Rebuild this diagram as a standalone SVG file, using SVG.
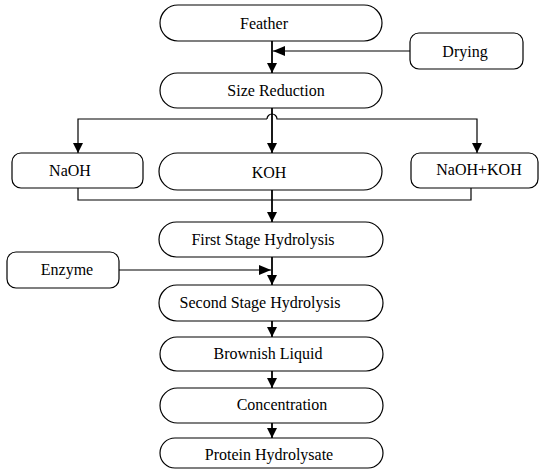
<svg xmlns="http://www.w3.org/2000/svg" width="539" height="472" viewBox="0 0 539 472">
<style>
.n{fill:#fff;stroke:#000;stroke-width:1.2}
.t{font-family:"Liberation Serif","Times New Roman",Times,"DejaVu Serif",serif;font-size:16px;fill:#000;text-anchor:middle}
.c{fill:none;stroke:#000;stroke-width:1.2}
.m{fill:none;stroke:#000;stroke-width:1.8}
</style>
<defs>
<marker id="ah" viewBox="0 0 10 10" refX="10" refY="5" markerWidth="10" markerHeight="10" markerUnits="userSpaceOnUse" orient="auto">
<path d="M0,0 L10,5 L0,10 Z" fill="#000"/>
</marker>
<marker id="ahw" viewBox="0 0 12 10" refX="12" refY="5" markerWidth="14" markerHeight="10" markerUnits="userSpaceOnUse" orient="auto">
<path d="M0,0 L12,5 L0,10 Z" fill="#000"/>
</marker>
</defs>
<rect width="539" height="472" fill="#fff"/>
<g id="connectors">
<path class="m" d="M272,41 V73" marker-end="url(#ah)"/>
<path class="c" d="M410,51 H273" marker-end="url(#ahw)"/>
<path class="m" d="M272,108 V153" marker-end="url(#ah)"/>
<path class="c" d="M267,119 H78 V153" marker-end="url(#ah)"/>
<path class="c" d="M267,119 A5,5 0 0 1 277,119 H477 V153" marker-end="url(#ah)"/>
<path class="c" d="M78,188 V200 H471 V188"/>
<path class="m" d="M272,190 V222" marker-end="url(#ah)"/>
<path class="m" d="M272,257 V285" marker-end="url(#ah)"/>
<path class="c" d="M119,270 H271" marker-end="url(#ahw)"/>
<path class="m" d="M272,321 V337" marker-end="url(#ah)"/>
<path class="m" d="M272,371 V388" marker-end="url(#ah)"/>
<path class="m" d="M272,423 V438" marker-end="url(#ah)"/>
</g>
<g id="feather"><rect class="n" x="160" y="5" width="222" height="36" rx="18"/><text class="t" x="264" y="28.5">Feather</text></g>
<g id="drying"><rect class="n" x="410" y="33" width="113" height="36" rx="9"/><text class="t" x="465" y="56.5">Drying</text></g>
<g id="size-reduction"><rect class="n" x="160" y="73" width="222" height="35" rx="17.5"/><text class="t" x="276" y="96">Size Reduction</text></g>
<g id="naoh"><rect class="n" x="12" y="153" width="131" height="35" rx="9"/><text class="t" x="70" y="175.5">NaOH</text></g>
<g id="koh"><rect class="n" x="159" y="153" width="223" height="37" rx="18.5"/><text class="t" x="269" y="177.5">KOH</text></g>
<g id="naoh-koh"><rect class="n" x="411" y="153" width="127" height="35" rx="9"/><text class="t" x="479" y="175">NaOH+KOH</text></g>
<g id="first-stage"><rect class="n" x="159" y="222" width="224" height="35" rx="17.5"/><text class="t" x="263" y="245">First Stage Hydrolysis</text></g>
<g id="enzyme"><rect class="n" x="7" y="252" width="112" height="36" rx="9"/><text class="t" x="67" y="275">Enzyme</text></g>
<g id="second-stage"><rect class="n" x="159" y="285" width="224" height="36" rx="18"/><text class="t" x="260" y="308">Second Stage Hydrolysis</text></g>
<g id="brownish-liquid"><rect class="n" x="160" y="337" width="223" height="34" rx="17"/><text class="t" x="268" y="359">Brownish Liquid</text></g>
<g id="concentration"><rect class="n" x="160" y="388" width="223" height="35" rx="17.5"/><text class="t" x="282" y="410">Concentration</text></g>
<g id="protein-hydrolysate"><rect class="n" x="160" y="438" width="223" height="30" rx="15"/><text class="t" x="269" y="460">Protein Hydrolysate</text></g>
</svg>
